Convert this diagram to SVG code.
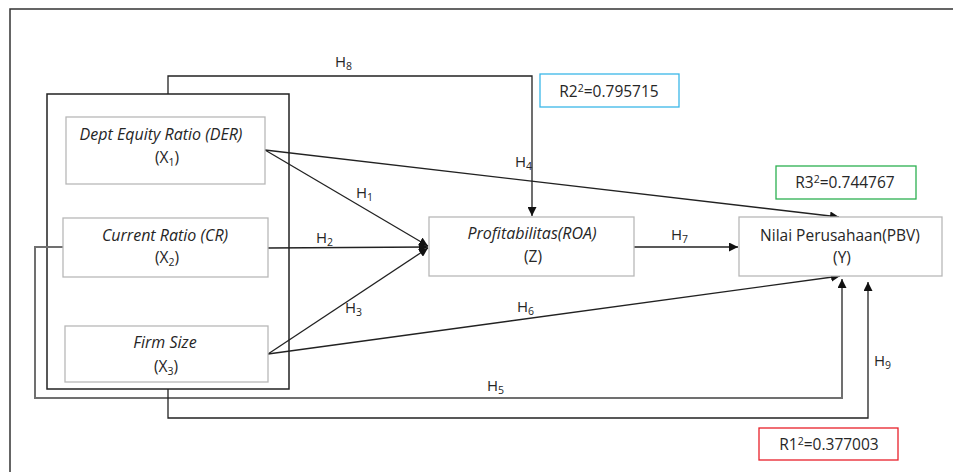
<svg xmlns="http://www.w3.org/2000/svg" width="953" height="472" viewBox="0 0 953 472">
<style>
.t{font-family:"Open Sans","Liberation Sans",sans-serif;font-size:15.5px;fill:#262626;text-anchor:middle}
.i{font-style:italic;font-size:16px}
.h{font-family:"Open Sans","Liberation Sans",sans-serif;font-size:15px;fill:#262626}
.s{font-size:10.5px}
.node{fill:#fff;stroke:#b8b8b8;stroke-width:1.3}
.ln{fill:none;stroke:#222;stroke-width:1.3}
.gl{fill:none;stroke:#707070;stroke-width:2}
</style>
<defs>
<marker id="a" viewBox="0 0 10 10" refX="10" refY="5" markerWidth="9" markerHeight="9" markerUnits="userSpaceOnUse" orient="auto"><path d="M0,0L10,5L0,10z" fill="#111"/></marker>
</defs>
<rect x="0" y="0" width="953" height="472" fill="#fff"/>
<rect x="10" y="9" width="960" height="480" fill="none" stroke="#333" stroke-width="1.5"/>
<rect x="47" y="94" width="242" height="295" fill="none" stroke="#222" stroke-width="1.5"/>
<g id="connectors">
<polyline class="ln" points="168,94 168,76 532,76 532,216" marker-end="url(#a)"/>
<polyline class="gl" points="63,247 35,247 35,398 842,398 842,279" marker-end="url(#a)"/>
<polyline class="ln" points="168,389 168,418 868,418 868,282" marker-end="url(#a)"/>
<line class="ln" x1="265" y1="150" x2="428" y2="246" marker-end="url(#a)"/>
<line class="ln" x1="268" y1="248" x2="428" y2="247" marker-end="url(#a)"/>
<line class="ln" x1="268" y1="354" x2="428" y2="248" marker-end="url(#a)"/>
<line class="ln" x1="265" y1="150" x2="839" y2="217" marker-end="url(#a)"/>
<line class="ln" x1="268" y1="354" x2="840" y2="276" marker-end="url(#a)"/>
<line class="ln" x1="634" y1="247" x2="738" y2="247" marker-end="url(#a)"/>
</g>
<g id="labels">
<text class="h" x="335" y="67">H<tspan class="s" dy="3">8</tspan></text>
<text class="h" x="515" y="167">H<tspan class="s" dy="3">4</tspan></text>
<text class="h" x="356" y="198">H<tspan class="s" dy="3">1</tspan></text>
<text class="h" x="316" y="243">H<tspan class="s" dy="3">2</tspan></text>
<text class="h" x="345" y="313">H<tspan class="s" dy="3">3</tspan></text>
<text class="h" x="517" y="312">H<tspan class="s" dy="3">6</tspan></text>
<text class="h" x="487" y="391">H<tspan class="s" dy="3">5</tspan></text>
<text class="h" x="671" y="240">H<tspan class="s" dy="3">7</tspan></text>
<text class="h" x="874" y="366">H<tspan class="s" dy="3">9</tspan></text>
</g>
<g id="x1">
<rect class="node" x="66" y="117" width="199" height="67"/>
<text class="t i" x="161" y="140">Dept Equity Ratio (DER)</text>
<text class="t" x="167" y="163">(X<tspan class="s" dy="3">1</tspan><tspan dy="-3">)</tspan></text>
</g>
<g id="x2">
<rect class="node" x="63" y="218" width="205" height="59"/>
<text class="t i" x="165" y="241">Current Ratio (CR)</text>
<text class="t" x="167" y="263">(X<tspan class="s" dy="3">2</tspan><tspan dy="-3">)</tspan></text>
</g>
<g id="x3">
<rect class="node" x="65" y="326" width="203" height="56"/>
<text class="t i" x="165" y="348">Firm Size</text>
<text class="t" x="166" y="372">(X<tspan class="s" dy="3">3</tspan><tspan dy="-3">)</tspan></text>
</g>
<g id="z">
<rect class="node" x="429" y="217" width="205" height="59"/>
<text class="t i" x="532" y="239">Profitabilitas(ROA)</text>
<text class="t" x="533" y="262">(Z)</text>
</g>
<g id="y">
<rect class="node" x="739" y="217" width="203" height="59"/>
<text class="t" x="840" y="241">Nilai Perusahaan(PBV)</text>
<text class="t" x="842" y="263">(Y)</text>
</g>
<g id="r2">
<rect x="540" y="74" width="139" height="33" fill="#fff" stroke="#3bb7e8" stroke-width="1.3"/>
<text class="t" x="609" y="97">R2<tspan class="s" dy="-5">2</tspan><tspan dy="5">=0.795715</tspan></text>
</g>
<g id="r3">
<rect x="776" y="166" width="140" height="33" fill="#fff" stroke="#2cb050" stroke-width="1.3"/>
<text class="t" x="845" y="188">R3<tspan class="s" dy="-5">2</tspan><tspan dy="5">=0.744767</tspan></text>
</g>
<g id="r1">
<rect x="759" y="428" width="139" height="32" fill="#fff" stroke="#e8202a" stroke-width="1.3"/>
<text class="t" x="829" y="450">R1<tspan class="s" dy="-5">2</tspan><tspan dy="5">=0.377003</tspan></text>
</g>
</svg>
